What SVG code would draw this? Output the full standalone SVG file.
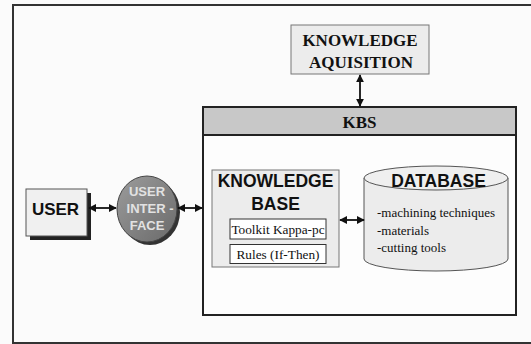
<svg xmlns="http://www.w3.org/2000/svg" width="531" height="344" viewBox="0 0 531 344">
<defs>
<style>
.box{fill:#ececec;stroke:#777;stroke-width:1}
.ln{stroke:#111;stroke-width:1.8;fill:none}
.ser{font-family:"Liberation Serif","Times New Roman",serif;fill:#111}
.san{font-family:"Liberation Sans",Arial,sans-serif;fill:#111}
.uit{font-family:"Liberation Sans",Arial,sans-serif;font-size:13px;font-weight:bold;fill:#e2e2e2}
</style>
<marker id="ah" viewBox="0 0 10 10" refX="9" refY="5" markerWidth="8" markerHeight="8" orient="auto-start-reverse" markerUnits="userSpaceOnUse">
<path d="M0,0 L10,5 L0,10 z" fill="#111"/>
</marker>
<linearGradient id="ui" x1="0" y1="0" x2="1" y2="1">
<stop offset="0" stop-color="#9c9c9c"/>
<stop offset="1" stop-color="#6a6a6a"/>
</linearGradient>
</defs>
<rect x="0" y="0" width="531" height="344" fill="#fbfbfb"/>
<rect x="13" y="5" width="530" height="338" fill="none" stroke="#333" stroke-width="2"/>

<g id="knowledge-aquisition">
<rect x="291" y="25" width="138" height="49" class="box"/>
<text x="360" y="46" class="ser" font-size="17" font-weight="bold" text-anchor="middle">KNOWLEDGE</text>
<text x="361" y="68" class="ser" font-size="17" font-weight="bold" text-anchor="middle">AQUISITION</text>
</g>

<g id="kbs">
<rect x="203" y="107" width="313" height="208" fill="#fdfdfd" stroke="#222" stroke-width="2"/>
<rect x="203" y="107" width="313" height="28" fill="#c8c8c8" stroke="#222" stroke-width="2"/>
<text x="359.5" y="128" class="ser" font-size="17" font-weight="bold" text-anchor="middle">KBS</text>
</g>

<g id="user">
<rect x="30" y="193" width="61" height="47" fill="#222"/>
<rect x="26" y="189" width="61" height="47" fill="#f0f0f0" stroke="#555" stroke-width="1"/>
<text x="55.5" y="215" class="san" font-size="17" font-weight="bold" text-anchor="middle">USER</text>
</g>

<g id="user-interface">
<ellipse cx="150" cy="212" rx="30" ry="33" fill="#333"/>
<ellipse cx="147" cy="209" rx="30" ry="33" fill="url(#ui)" stroke="#444" stroke-width="1"/>
<text x="147" y="196" class="uit" text-anchor="middle">USER</text>
<text x="150" y="213" class="uit" text-anchor="middle">INTER -</text>
<text x="147" y="230" class="uit" text-anchor="middle">FACE</text>
</g>

<g id="knowledge-base">
<rect x="212" y="170" width="127" height="97" class="box"/>
<text x="275.5" y="187" class="san" font-size="17.5" font-weight="bold" text-anchor="middle">KNOWLEDGE</text>
<text x="275.5" y="210" class="san" font-size="17.5" font-weight="bold" text-anchor="middle">BASE</text>
<rect x="230" y="219" width="96" height="20" fill="#fff" stroke="#333" stroke-width="1"/>
<text x="278" y="234" class="ser" font-size="13.3" text-anchor="middle">Toolkit Kappa-pc</text>
<rect x="230" y="244.5" width="96" height="19" fill="#fff" stroke="#333" stroke-width="1"/>
<text x="278" y="259" class="ser" font-size="13.3" text-anchor="middle">Rules (If-Then)</text>
</g>

<g id="database">
<path d="M364,178 L364,259 A72,12 0 0 0 508,259 L508,178" fill="#ececec" stroke="#555" stroke-width="1"/>
<ellipse cx="436" cy="178" rx="72" ry="12" fill="#efefef" stroke="#555" stroke-width="1"/>
<text x="438.5" y="187" class="san" font-size="17.5" font-weight="bold" text-anchor="middle">DATABASE</text>
<text x="377" y="217" class="ser" font-size="13">-machining techniques</text>
<text x="377" y="235" class="ser" font-size="13">-materials</text>
<text x="377" y="252" class="ser" font-size="13">-cutting tools</text>
</g>

<g id="connectors">
<line x1="360" y1="75" x2="360" y2="106" class="ln" marker-start="url(#ah)" marker-end="url(#ah)"/>
<line x1="89" y1="208" x2="116" y2="208" class="ln" marker-start="url(#ah)" marker-end="url(#ah)"/>
<line x1="178" y1="208" x2="202" y2="208" class="ln" marker-start="url(#ah)" marker-end="url(#ah)"/>
<line x1="340" y1="220" x2="364" y2="220" class="ln" marker-start="url(#ah)" marker-end="url(#ah)"/>
</g>
</svg>
